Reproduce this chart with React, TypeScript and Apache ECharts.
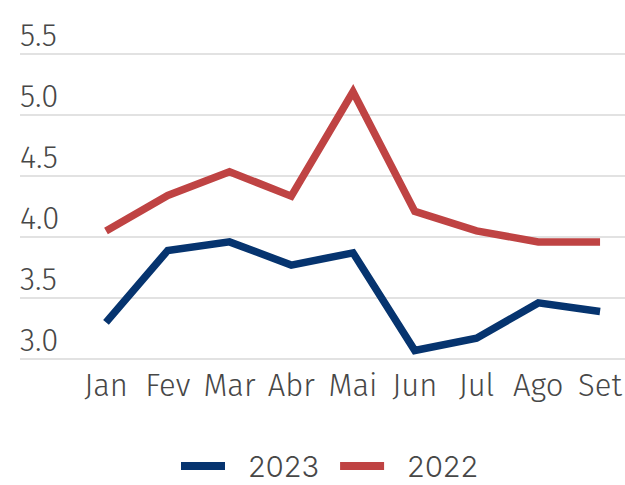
import React, { useEffect, useRef } from "react";
import * as echarts from "echarts";

const months = ["Jan", "Fev", "Mar", "Abr", "Mai", "Jun", "Jul", "Ago", "Set"];
const values2023 = [3.30, 3.89, 3.96, 3.77, 3.87, 3.07, 3.17, 3.46, 3.39];
const values2022 = [4.05, 4.34, 4.535, 4.335, 5.19, 4.21, 4.05, 3.96, 3.96];
const yMin = 3.0;
const yMax = 5.5;
const yStep = 0.5;

const BLUE = "#06346f";
const RED = "#bf4343";
const TEXT = "#474747";
const FONT = "'Fira Sans', 'Open Sans', 'Noto Sans', sans-serif";

export default function App() {
  const ref = useRef<HTMLDivElement>(null);
  useEffect(() => {
    if (!ref.current) return;
    const chart = echarts.init(ref.current, undefined, { renderer: "svg" });
    chart.setOption({
      animation: false,
      backgroundColor: "#ffffff",
      legend: {
        top: 446,
        left: 176,
        icon: "rect",
        itemWidth: 44,
        itemHeight: 8,
        itemGap: 21,
        textStyle: {
          fontFamily: "Inter, 'Noto Sans', sans-serif",
          fontWeight: 300,
          fontSize: 29,
          lineHeight: 30,
          color: TEXT,
          padding: [0, 0, 0, 18],
        },
        data: ["2023", "2022"],
      },
      grid: [
        { left: 20, right: 0, top: 54, bottom: 126 },
        { left: 106, right: 24, top: 54, bottom: 126 },
      ],
      xAxis: [
        { type: "value", gridIndex: 0, show: false, min: 0, max: 1 },
        {
          type: "category",
          gridIndex: 1,
          data: months,
          boundaryGap: false,
          axisLine: { show: false },
          axisTick: { show: false },
          axisLabel: {
            interval: 0,
            fontFamily: FONT,
            fontSize: 31,
            fontWeight: 350,
            color: TEXT,
            margin: 11,
          },
        },
      ],
      yAxis: [
        {
          type: "value",
          gridIndex: 0,
          min: yMin,
          max: yMax,
          interval: yStep,
          axisLine: { show: false },
          axisTick: { show: false },
          splitLine: { lineStyle: { color: "#d8d8d8", width: 1.5 } },
          axisLabel: {
            inside: true,
            margin: 0,
            verticalAlign: "bottom",
            padding: [0, 0, 3, 0],
            fontFamily: FONT,
            fontSize: 31,
            fontWeight: 350,
            color: TEXT,
            formatter: (v: number) => v.toFixed(1),
          },
        },
        {
          type: "value",
          gridIndex: 1,
          min: yMin,
          max: yMax,
          interval: yStep,
          show: false,
          splitLine: { show: false },
        },
      ],
      series: [
        {
          name: "2023",
          type: "line",
          xAxisIndex: 1,
          yAxisIndex: 1,
          data: values2023,
          symbol: "none",
          color: BLUE,
          lineStyle: { color: BLUE, width: 7.5, join: "miter" },
        },
        {
          name: "2022",
          type: "line",
          xAxisIndex: 1,
          yAxisIndex: 1,
          data: values2022,
          symbol: "none",
          color: RED,
          lineStyle: { color: RED, width: 7.5, join: "miter" },
        },
      ],
    });
    return () => chart.dispose();
  }, []);
  return (
    <div
      ref={ref}
      style={{ position: "fixed", left: 0, top: 0, width: 625, height: 485 }}
    />
  );
}
